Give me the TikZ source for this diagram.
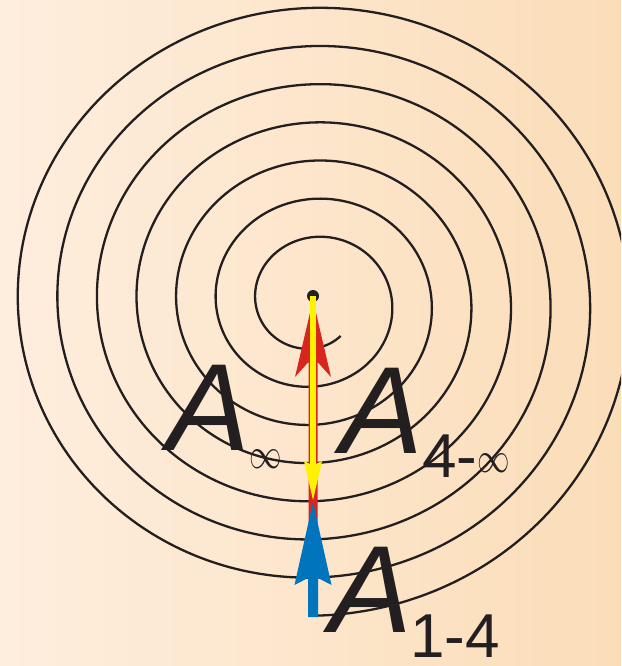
\documentclass[tikz,border=0pt]{standalone}
\usepackage{fontspec}
\setmainfont{Liberation Sans}
\definecolor{ink}{RGB}{35,31,32}
\definecolor{redA}{RGB}{215,38,30}
\definecolor{yelA}{RGB}{255,242,0}
\definecolor{bluA}{RGB}{0,117,190}
\definecolor{bgL}{RGB}{254,238,222}
\definecolor{bgR}{RGB}{251,221,184}
\newcommand{\thininf}{\raisebox{5pt}{\fontsize{10}{10}\selectfont\scalebox{3.25}[4.3]{$\infty$}}}
\begin{document}
\begin{tikzpicture}[x=1pt,y=-1pt,
  bigA/.style={inner sep=0pt, anchor=base west, text=ink, font=\fontsize{124}{124}\selectfont\itshape},
  subtxt/.style={inner sep=0pt, anchor=base west, text=ink, font=\fontsize{62}{62}\selectfont},
  spiralline/.style={draw=ink, line width=2.3pt, line join=round},
]
\useasboundingbox (0,0) rectangle (621,666);
\shade[left color=bgL, right color=bgR] (0,0) rectangle (621,666);
\begin{scope}
\clip (0,0) rectangle (621,666);
\draw[spiralline] plot[domain=-37:2520, samples=800, variable=\t, smooth]
  ({313.85-(48.55+0.11*\t)*sin(\t)}, {302.25+(46.15+0.1061*\t)*cos(\t)});
\end{scope}
% red arrow (up)
\fill[redA] (313,300) -- (331,377) -- (317.5,362) -- (317.5,530) -- (308.5,530)
  -- (308.5,362) -- (295,377) -- cycle;
% blue arrow (up)
\fill[bluA] (313,502) -- (331.5,585) -- (318,578) -- (318,617) -- (308,617)
  -- (308,578) -- (294.5,585) -- cycle;
% centre dot
\node[circle, fill=ink, inner sep=0pt, minimum size=12pt] (centre) at (313,296) {};
% yellow arrow (down)
\fill[yelA] (310.2,296) -- (315.8,296) -- (315.8,464) -- (322,461) -- (313,500)
  -- (304,461) -- (310.2,464) -- cycle;
% labels
\node[bigA] (Ainf) at (167,450) {A};
\node[subtxt] (sinf) at (249,473) {\thininf};
\node[bigA] (A4) at (340,453) {A};
\node[subtxt] (s4) at (422,477) {4-\thininf};
\node[bigA] (A1) at (329,632) {A};
\node[subtxt] (s1) at (410,657) {1-4};
\end{tikzpicture}
\end{document}
